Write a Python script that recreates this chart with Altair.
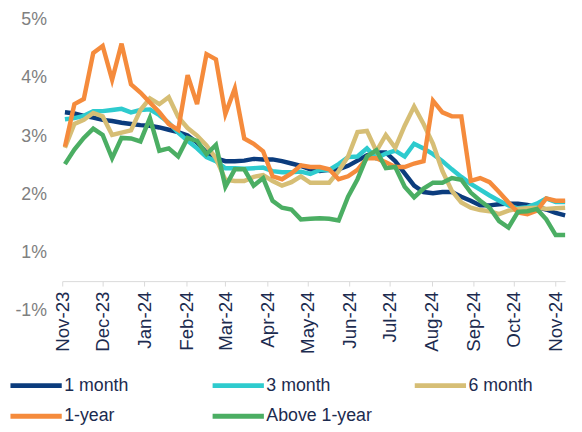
import altair as alt
import pandas as pd

series_names = ["1 month", "3 month", "6 month", "1-year", "Above 1-year"]
series_colors = ["#0B3C7D", "#2ECBCE", "#D6BE75", "#F58B3C", "#4BAE63"]

dates = pd.date_range("2023-11-03", periods=54, freq="7D").strftime("%Y-%m-%d").tolist()

one_month = [3.41, 3.39, 3.35, 3.32, 3.28, 3.26, 3.23, 3.21, 3.19, 3.18,
             3.15, 3.11, 3.07, 3.01, 2.89, 2.72, 2.62, 2.57, 2.57, 2.58,
             2.61, 2.60, 2.60, 2.57, 2.53, 2.49, 2.43, 2.40, 2.42, 2.43,
             2.49, 2.58, 2.67, 2.72, 2.72, 2.57, 2.36, 2.15, 2.04, 2.02,
             2.04, 2.04, 1.96, 1.89, 1.81, 1.81, 1.83, 1.84, 1.84, 1.82,
             1.78, 1.74, 1.68, 1.64]
three_month = [3.29, 3.31, 3.35, 3.43, 3.43, 3.45, 3.47, 3.41, 3.45, 3.46,
               3.36, 3.23, 3.06, 2.92, 2.79, 2.64, 2.57, 2.45, 2.45, 2.44,
               2.45, 2.46, 2.40, 2.38, 2.38, 2.39, 2.35, 2.42, 2.42, 2.52,
               2.64, 2.65, 2.79, 2.62, 2.70, 2.75, 2.65, 2.87, 2.79, 2.69,
               2.57, 2.43, 2.30, 2.18, 2.08, 1.98, 1.89, 1.81, 1.76, 1.78,
               1.84, 1.93, 1.87, 1.87]
six_month = [2.80, 3.21, 3.28, 3.40, 3.34, 3.02, 3.06, 3.10, 3.45, 3.65,
             3.55, 3.67, 3.33, 3.14, 3.01, 2.84, 2.62, 2.25, 2.23, 2.23,
             2.30, 2.33, 2.23, 2.15, 2.21, 2.31, 2.20, 2.20, 2.20, 2.40,
             2.65, 3.07, 3.09, 2.74, 3.02, 2.80, 3.18, 3.51, 3.21, 2.87,
             2.40, 2.06, 1.86, 1.77, 1.73, 1.71, 1.66, 1.72, 1.75, 1.76,
             1.77, 1.75, 1.76, 1.77]
one_year = [2.82, 3.55, 3.64, 4.43, 4.55, 3.97, 4.59, 3.89, 3.75, 3.58,
            3.41, 3.21, 3.11, 4.05, 3.55, 4.41, 4.32, 3.38, 3.82, 2.96,
            2.87, 2.74, 2.31, 2.26, 2.36, 2.50, 2.47, 2.47, 2.43, 2.26,
            2.31, 2.42, 2.62, 2.62, 2.55, 2.47, 2.47, 2.53, 2.57, 3.61,
            3.41, 3.34, 3.34, 2.23, 2.28, 2.21, 2.04, 1.86, 1.69, 1.66,
            1.72, 1.93, 1.89, 1.89]
above_one_year = [2.52, 2.77, 2.97, 3.13, 3.02, 2.62, 2.97, 2.96, 2.91, 3.31,
                  2.75, 2.79, 2.65, 2.97, 2.92, 2.69, 2.85, 2.13, 2.43, 2.43,
                  2.15, 2.28, 1.89, 1.77, 1.74, 1.57, 1.58, 1.59, 1.58, 1.55,
                  1.96, 2.26, 2.65, 2.76, 2.45, 2.47, 2.13, 1.95, 2.10, 2.20,
                  2.20, 2.28, 2.25, 2.03, 1.89, 1.77, 1.54, 1.43, 1.70, 1.71,
                  1.75, 1.57, 1.30, 1.30]

y_ticks = [0, 1, 2, 3, 4, 5]

all_values = [one_month, three_month, six_month, one_year, above_one_year]
rows = []
for name, vals in zip(series_names, all_values):
    for d, v in zip(dates, vals):
        rows.append({"date": d, "value": v, "series": name})
df = pd.DataFrame(rows)

FONT = "Liberation Sans"
NAVY_TEXT = "#1C2B4F"

tick_dates = [alt.DateTime(year=2023 + (10 + k) // 12, month=(10 + k) % 12 + 1, date=1, utc=True)
              for k in range(13)]

x_enc = alt.X(
    "date:T",
    scale=alt.Scale(type="utc",
                    domain=[alt.DateTime(year=2023, month=11, date=1, utc=True),
                            alt.DateTime(year=2024, month=11, date=8, utc=True)]),
    axis=alt.Axis(values=tick_dates, format="%b-%y", labelAngle=270,
                  labelFontSize=19, labelFont=FONT, labelColor=NAVY_TEXT,
                  domainColor="#D9D9D9", tickColor="#D9D9D9", tickSize=5,
                  labelPadding=5, offset=-30, grid=False, title=None,
                  labelOverlap=False, labelFlush=False),
)
y_enc = alt.Y(
    "value:Q",
    scale=alt.Scale(domain=[0, 5], nice=False, zero=False),
    axis=alt.Axis(values=y_ticks,
                  labelExpr="datum.value == 0 ? '-1%' : datum.value + '%'",
                  ticks=False, domain=False, grid=False, labelFontSize=18,
                  labelFont=FONT, labelColor="#808080", labelPadding=16,
                  title=None),
)
color_enc = alt.Color(
    "series:N",
    scale=alt.Scale(domain=series_names, range=series_colors),
    legend=alt.Legend(title=None, orient="none", legendX=-55, legendY=360,
                      direction="horizontal", columns=3, padding=0,
                      symbolType="stroke", symbolSize=2704,
                      symbolStrokeWidth=5, labelFontSize=18, labelFont=FONT,
                      labelColor=NAVY_TEXT, labelOffset=0, gridAlign="all",
                      columnPadding=40, rowPadding=9, clipHeight=22,
                      labelLimit=300),
)

layers = []
for name in series_names:
    layers.append(
        alt.Chart(df)
        .transform_filter(alt.datum.series == name)
        .mark_line(strokeWidth=4.5, strokeJoin="miter")
        .encode(x=x_enc, y=y_enc, color=color_enc)
    )

chart = (
    alt.layer(*layers)
    .properties(width=510, height=295,
                padding={"left": 0, "top": 0, "right": 0, "bottom": 0})
    .configure_view(stroke=None)
)

chart.save("out.html", embed_options={"renderer": "svg", "actions": False})
